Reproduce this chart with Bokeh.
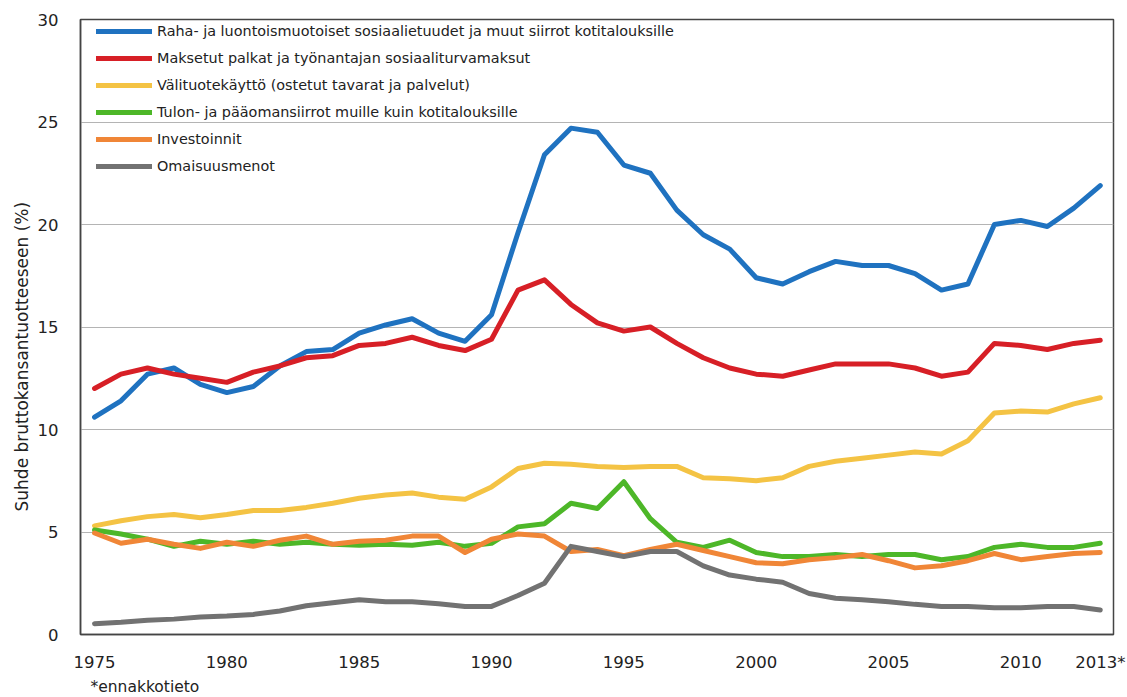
from bokeh.plotting import figure
from bokeh.models import Range1d, FixedTicker, Legend, LegendItem, Title
from bokeh.embed import file_html
from bokeh.resources import INLINE

years = list(range(1975, 2014))

raha = [10.6, 11.4, 12.7, 13.0, 12.2, 11.8, 12.1, 13.1, 13.8, 13.9,
        14.7, 15.1, 15.4, 14.7, 14.3, 15.6, 19.6, 23.4, 24.7, 24.5,
        22.9, 22.5, 20.7, 19.5, 18.8, 17.4, 17.1, 17.7, 18.2, 18.0,
        18.0, 17.6, 16.8, 17.1, 20.0, 20.2, 19.9, 20.8, 21.9]
palkat = [12.0, 12.7, 13.0, 12.7, 12.5, 12.3, 12.8, 13.1, 13.5, 13.6,
          14.1, 14.2, 14.5, 14.1, 13.85, 14.4, 16.8, 17.3, 16.1, 15.2,
          14.8, 15.0, 14.2, 13.5, 13.0, 12.7, 12.6, 12.9, 13.2, 13.2,
          13.2, 13.0, 12.6, 12.8, 14.2, 14.1, 13.9, 14.2, 14.35]
valituote = [5.3, 5.55, 5.75, 5.85, 5.7, 5.85, 6.05, 6.05, 6.2, 6.4,
             6.65, 6.8, 6.9, 6.7, 6.6, 7.2, 8.1, 8.35, 8.3, 8.2,
             8.15, 8.2, 8.2, 7.65, 7.6, 7.5, 7.65, 8.2, 8.45, 8.6,
             8.75, 8.9, 8.8, 9.45, 10.8, 10.9, 10.85, 11.25, 11.55]
tulonsiirrot = [5.1, 4.9, 4.65, 4.3, 4.55, 4.4, 4.55, 4.4, 4.5, 4.4,
                4.35, 4.4, 4.35, 4.5, 4.3, 4.45, 5.25, 5.4, 6.4, 6.15,
                7.45, 5.65, 4.5, 4.25, 4.6, 4.0, 3.8, 3.8, 3.9, 3.8,
                3.9, 3.9, 3.65, 3.8, 4.25, 4.4, 4.25, 4.25, 4.45]
investoinnit = [4.95, 4.45, 4.65, 4.4, 4.2, 4.5, 4.3, 4.6, 4.8, 4.4,
                4.55, 4.6, 4.8, 4.8, 4.0, 4.65, 4.9, 4.8, 4.05, 4.15,
                3.85, 4.15, 4.4, 4.1, 3.8, 3.5, 3.45, 3.65, 3.75, 3.9,
                3.6, 3.25, 3.35, 3.6, 3.95, 3.65, 3.8, 3.95, 4.0]
omaisuus = [0.53, 0.6, 0.7, 0.75, 0.85, 0.9, 0.98, 1.15, 1.4, 1.55,
            1.7, 1.6, 1.6, 1.5, 1.37, 1.37, 1.9, 2.5, 4.3, 4.05,
            3.8, 4.05, 4.05, 3.35, 2.9, 2.7, 2.55, 2.0, 1.77, 1.7,
            1.6, 1.47, 1.37, 1.37, 1.3, 1.3, 1.37, 1.37, 1.2]

series = [
    ("Raha- ja luontoismuotoiset sosiaalietuudet ja muut siirrot kotitalouksille", raha, "#1F72C0"),
    ("Maksetut palkat ja työnantajan sosiaaliturvamaksut", palkat, "#D71F26"),
    ("Välituotekäyttö (ostetut tavarat ja palvelut)", valituote, "#F4C344"),
    ("Tulon- ja pääomansiirrot muille kuin kotitalouksille", tulonsiirrot, "#4DB728"),
    ("Investoinnit", investoinnit, "#F08637"),
    ("Omaisuusmenot", omaisuus, "#727272"),
]

x_ticks = [1975, 1980, 1985, 1990, 1995, 2000, 2005, 2010, 2013]
x_tick_labels = {2013: "2013*"}
y_ticks = [0, 5, 10, 15, 20, 25, 30]
y_title = "Suhde bruttokansantuotteeseen (%)"
footnote = "*ennakkotieto"

FONT = "DejaVu Sans"

p = figure(width=1127, height=697, output_backend="svg", toolbar_location=None,
           x_range=Range1d(1974.47, 2013.5), y_range=Range1d(0, 30),
           min_border_left=80, min_border_right=14, min_border_top=19, min_border_bottom=63)

p.background_fill_color = "white"
p.outline_line_color = "#444444"
p.outline_line_width = 1.5

p.xgrid.grid_line_color = None
p.ygrid.grid_line_color = "#B4B4B4"
p.ygrid.grid_line_width = 1
p.ygrid.ticker = FixedTicker(ticks=y_ticks)

p.xaxis.ticker = FixedTicker(ticks=x_ticks)
p.xaxis.major_label_overrides = {k: v for k, v in x_tick_labels.items()}
p.yaxis.ticker = FixedTicker(ticks=y_ticks)

for ax in (p.xaxis[0], p.yaxis[0]):
    ax.axis_line_color = "#444444"
    ax.axis_line_width = 1.5
    ax.major_tick_line_color = None
    ax.minor_tick_line_color = None
    ax.major_tick_out = 0
    ax.major_tick_in = 0
    ax.minor_tick_out = 0
    ax.minor_tick_in = 0
    ax.major_label_text_font = FONT
    ax.major_label_text_font_size = "16.5px"
    ax.major_label_text_color = "#222222"

p.xaxis.major_label_standoff = 18
p.yaxis.major_label_standoff = 22
# trailing no-break spaces shift the rotated title downwards like in the reference
p.yaxis.axis_label = y_title + "\u00a0" * 11
p.yaxis.axis_label_text_font = FONT
p.yaxis.axis_label_text_font_size = "17px"
p.yaxis.axis_label_text_font_style = "normal"
p.yaxis.axis_label_text_color = "#222222"
p.yaxis.axis_label_standoff = 3

items = []
for label, vals, color in series:
    r = p.line(years, vals, line_color=color, line_width=5, line_join="round", line_cap="round")
    items.append(LegendItem(label=label, renderers=[r]))

legend = Legend(items=items, location=(16, 456), margin=0, padding=0,
                spacing=3, glyph_width=56, glyph_height=24, label_height=24,
                label_standoff=5, label_text_font=FONT, label_text_font_size="14.4px",
                label_text_color="#222222",
                background_fill_alpha=0, border_line_alpha=0)
p.add_layout(legend, "center")

note = Title(text=footnote, align="left", offset=10, standoff=3,
             text_font=FONT, text_font_size="15.5px", text_font_style="normal",
             text_color="#222222", vertical_align="bottom")
p.add_layout(note, "below")

open("out.html", "w").write(file_html(p, INLINE))
